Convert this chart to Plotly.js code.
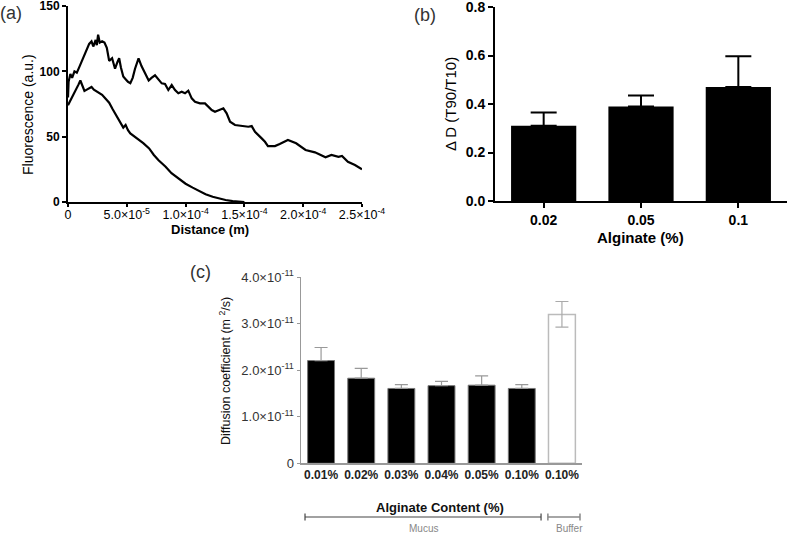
<!DOCTYPE html>
<html>
<head>
<meta charset="utf-8">
<script src="https://cdn.plot.ly/plotly-3.0.1.min.js"></script>
<style>html,body{margin:0;padding:0;background:#fff;}#plot{width:789px;height:533px;}</style>
</head>
<body>
<div id="plot"></div>
<script>
// ---- Panel (a): fluorescence profiles ----
const upperDist = [0.000e-4,0.005e-4,0.02e-4,0.035e-4,0.055e-4,0.075e-4,0.095e-4,0.125e-4,0.155e-4,0.18e-4,0.20e-4,0.215e-4,0.235e-4,0.245e-4,0.256e-4,0.27e-4,0.29e-4,0.31e-4,0.33e-4,0.35e-4,0.375e-4,0.39e-4,0.40e-4,0.42e-4,0.435e-4,0.45e-4,0.47e-4,0.49e-4,0.51e-4,0.53e-4,0.55e-4,0.57e-4,0.60e-4,0.625e-4,0.66e-4,0.686e-4,0.71e-4,0.74e-4,0.797e-4,0.825e-4,0.853e-4,0.882e-4,0.91e-4,0.938e-4,0.967e-4,0.995e-4,1.023e-4,1.052e-4,1.08e-4,1.122e-4,1.165e-4,1.193e-4,1.222e-4,1.25e-4,1.293e-4,1.321e-4,1.349e-4,1.378e-4,1.42e-4,1.477e-4,1.533e-4,1.562e-4,1.59e-4,1.647e-4,1.675e-4,1.70e-4,1.76e-4,1.80e-4,1.87e-4,1.94e-4,2.02e-4,2.10e-4,2.19e-4,2.24e-4,2.30e-4,2.33e-4,2.38e-4,2.44e-4,2.50e-4];
const upperFluor = [80,92,98,95,100,99,103,109,116,121,123,119,124,120,128,122,123,122,118,108,110,105,102,107,110,103,96,94,92,91,95,102,110,104,97,93,95,97,90.8,90.3,85.7,89.5,85.7,83.2,84.4,83.2,85.2,79.3,76.7,75.5,75.5,72.9,70.4,69.1,70.4,71.7,67.9,61.4,58.9,58.1,57.6,58.1,53.8,48.7,46.1,42.8,42.8,44.4,47.4,44.9,39.8,38,34.2,36,34.5,35.2,30.8,28.3,25];
const lowerDist = [0.00e-4,0.03e-4,0.06e-4,0.09e-4,0.105e-4,0.12e-4,0.14e-4,0.16e-4,0.18e-4,0.20e-4,0.22e-4,0.25e-4,0.29e-4,0.32e-4,0.35e-4,0.38e-4,0.40e-4,0.43e-4,0.45e-4,0.47e-4,0.49e-4,0.51e-4,0.53e-4,0.57e-4,0.60e-4,0.64e-4,0.69e-4,0.73e-4,0.77e-4,0.83e-4,0.88e-4,0.94e-4,1.00e-4,1.06e-4,1.11e-4,1.17e-4,1.23e-4,1.29e-4,1.34e-4,1.40e-4,1.45e-4,1.50e-4];
const lowerFluor = [74,79,85,90,93,89,85,86,87,88,86,84,82,79,76,71,68,63,60,57,59,55,52.5,50,48,45,41,36,32,27,22,18,14,11,8.5,6,4,2.5,1.5,0.7,0.2,0];
const aTickVals = [0,5e-5,1e-4,1.5e-4,2e-4,2.5e-4];
const aTickText = ['0','5.0×10<sup>-5</sup>','1.0×10<sup>-4</sup>','1.5×10<sup>-4</sup>','2.0×10<sup>-4</sup>','2.5×10<sup>-4</sup>'];

// ---- Panel (b): delta D ----
const bCategories = ['0.02','0.05','0.1'];
const bValues = [0.31,0.39,0.47];
const bErrors = [0.055,0.045,0.127];

// ---- Panel (c): diffusion coefficients ----
const cCategories = ['0.01%','0.02%','0.03%','0.04%','0.05%','0.10%','0.10%'];
const mucusValues = [2.21e-11,1.83e-11,1.61e-11,1.67e-11,1.68e-11,1.61e-11];
const mucusErrors = [0.28e-11,0.21e-11,0.08e-11,0.09e-11,0.20e-11,0.08e-11];
const bufferValue = [3.20e-11];
const bufferErrPlus = [0.28e-11];
const bufferErrMinus = [0.27e-11];
const cTickVals = [0,1e-11,2e-11,3e-11,4e-11];
const cTickText = ['0','1.0×10<sup>-11</sup>','2.0×10<sup>-11</sup>','3.0×10<sup>-11</sup>','4.0×10<sup>-11</sup>'];

const W = 789, H = 533;
const px = v => v / W;
const py = v => 1 - v / H;
const FONT = 'Liberation Sans, Arial, sans-serif';

const mucusX = mucusValues.map((_, i) => i);
const bufferX = [mucusValues.length];

const traces = [
  {x: upperDist, y: upperFluor, type: 'scatter', mode: 'lines', line: {color: '#000', width: 2.2}, xaxis: 'x', yaxis: 'y', hoverinfo: 'skip'},
  {x: lowerDist, y: lowerFluor, type: 'scatter', mode: 'lines', line: {color: '#000', width: 2.2}, xaxis: 'x', yaxis: 'y', hoverinfo: 'skip'},
  {x: bCategories, y: bValues, type: 'bar', width: 0.67, marker: {color: '#000', line: {color: '#000', width: 0}},
   error_y: {type: 'data', symmetric: false, array: bErrors, arrayminus: bValues.map(() => 0), color: '#000', thickness: 2, width: 13},
   xaxis: 'x2', yaxis: 'y2'},
  {x: mucusX, y: mucusValues, type: 'bar', width: 0.67, marker: {color: '#000', line: {color: '#777', width: 1}},
   error_y: {type: 'data', symmetric: false, array: mucusErrors, arrayminus: mucusValues.map(() => 0), color: '#999', thickness: 1.2, width: 6.5},
   xaxis: 'x3', yaxis: 'y3'},
  {x: bufferX, y: bufferValue, type: 'bar', width: 0.67, marker: {color: '#fff', line: {color: '#bbb', width: 1.5}},
   error_y: {type: 'data', symmetric: false, array: bufferErrPlus, arrayminus: bufferErrMinus, color: '#aaa', thickness: 1.2, width: 6.5},
   xaxis: 'x3', yaxis: 'y3'}
];

function ann(text, x, y, size, opts) {
  return Object.assign({text: text, xref: 'paper', yref: 'paper', x: px(x), y: py(y), xanchor: 'center', yanchor: 'middle',
    showarrow: false, font: {size: size, color: '#000', family: FONT}}, opts || {});
}

const layout = {
  width: W, height: H,
  margin: {l: 0, r: 0, t: 0, b: 0},
  paper_bgcolor: '#fff', plot_bgcolor: 'rgba(0,0,0,0)',
  showlegend: false,
  font: {family: FONT, color: '#000'},
  xaxis: {domain: [px(68), px(362)], anchor: 'y', range: [0, 2.5e-4], tickvals: aTickVals, ticktext: aTickText,
    showline: true, linecolor: '#000', linewidth: 2, ticks: 'outside', ticklen: 3, tickwidth: 2, tickcolor: '#000', ticklabelstandoff: -3,
    showgrid: false, zeroline: false, ticklabeloverflow: 'allow', tickfont: {size: 12.5, family: FONT, color: '#000'}},
  yaxis: {domain: [py(202), py(6)], anchor: 'x', range: [0, 150], tickvals: [0,50,100,150],
    showline: true, linecolor: '#000', linewidth: 2, ticks: 'outside', ticklen: 4, tickwidth: 2, tickcolor: '#000',
    showgrid: false, zeroline: false, ticklabeloverflow: 'allow', tickfont: {size: 12, family: FONT, color: '#000', weight: 'bold'}},
  xaxis2: {domain: [px(495), px(787)], anchor: 'y2', type: 'category',
    showline: true, linecolor: '#000', linewidth: 2, ticks: 'outside', ticklen: 5, tickwidth: 2, tickcolor: '#000',
    showgrid: false, zeroline: false, ticklabeloverflow: 'allow', tickfont: {size: 14, family: FONT, color: '#000', weight: 'bold'}},
  yaxis2: {domain: [py(201), py(7)], anchor: 'x2', range: [0, 0.8], tickvals: [0,0.2,0.4,0.6,0.8], tickformat: '.1f',
    showline: true, linecolor: '#000', linewidth: 2, ticks: 'outside', ticklen: 5, tickwidth: 2, tickcolor: '#000',
    showgrid: false, zeroline: false, ticklabeloverflow: 'allow', tickfont: {size: 14, family: FONT, color: '#000', weight: 'bold'}},
  xaxis3: {domain: [px(301), px(582)], anchor: 'y3', range: [-0.5, 6.5], tickvals: cCategories.map((_, i) => i), ticktext: cCategories,
    showline: true, linecolor: '#999', linewidth: 1.5, ticks: '', showgrid: false, zeroline: false, ticklabeloverflow: 'allow',
    tickfont: {size: 12, family: FONT, color: '#222', weight: 'bold'}},
  yaxis3: {domain: [py(463.3), py(277.3)], anchor: 'x3', range: [0, 4e-11], tickvals: cTickVals, ticktext: cTickText,
    showline: true, linecolor: '#999', linewidth: 1.5, ticks: 'outside', ticklen: 3, tickwidth: 1, tickcolor: '#999',
    showgrid: false, zeroline: false, ticklabeloverflow: 'allow', tickfont: {size: 13, family: FONT, color: '#333'}},
  shapes: [
    {type: 'line', xref: 'x3', yref: 'paper', x0: -0.4, x1: 5.48, y0: py(517), y1: py(517), line: {color: '#444', width: 1.2}},
    {type: 'line', xref: 'x3', yref: 'paper', x0: -0.4, x1: -0.4, y0: py(513.5), y1: py(520.5), line: {color: '#444', width: 1.2}},
    {type: 'line', xref: 'x3', yref: 'paper', x0: 5.48, x1: 5.48, y0: py(513.5), y1: py(520.5), line: {color: '#444', width: 1.2}},
    {type: 'line', xref: 'x3', yref: 'paper', x0: 5.65, x1: 6.45, y0: py(517), y1: py(517), line: {color: '#888', width: 1.5}},
    {type: 'line', xref: 'x3', yref: 'paper', x0: 5.65, x1: 5.65, y0: py(513.5), y1: py(520.5), line: {color: '#888', width: 1.5}},
    {type: 'line', xref: 'x3', yref: 'paper', x0: 6.45, x1: 6.45, y0: py(513.5), y1: py(520.5), line: {color: '#888', width: 1.5}}
  ],
  annotations: [
    ann('(a)', 11, 13, 18, {font: {size: 18, color: '#333', family: FONT}}),
    ann('(b)', 425, 15, 18, {font: {size: 18, color: '#333', family: FONT}}),
    ann('(c)', 200, 272, 18, {font: {size: 18, color: '#333', family: FONT}}),
    ann('Fluorescence (a.u.)', 28, 115, 14, {textangle: -90}),
    ann('Distance (m)', 210, 229, 13, {font: {size: 13, color: '#000', family: FONT, weight: 'bold'}}),
    ann('Δ D (T90/T10)', 451, 104, 15, {textangle: -90}),
    ann('Alginate (%)', 640, 238, 15, {font: {size: 15, color: '#000', family: FONT, weight: 'bold'}}),
    ann('Diffusion coefficient (m <sup>2</sup>/s)', 225, 371, 12, {textangle: -90, font: {size: 12.5, color: '#111', family: FONT}}),
    ann('Alginate Content (%)', 440, 507, 13, {font: {size: 13, color: '#111', family: FONT, weight: 'bold'}}),
    ann('Mucus', 423, 528, 10, {font: {size: 10, color: '#888', family: FONT}}),
    ann('Buffer', 569, 528, 10, {font: {size: 10, color: '#888', family: FONT}})
  ]
};

Plotly.newPlot('plot', traces, layout, {staticPlot: true, displayModeBar: false});
</script>
</body>
</html>
